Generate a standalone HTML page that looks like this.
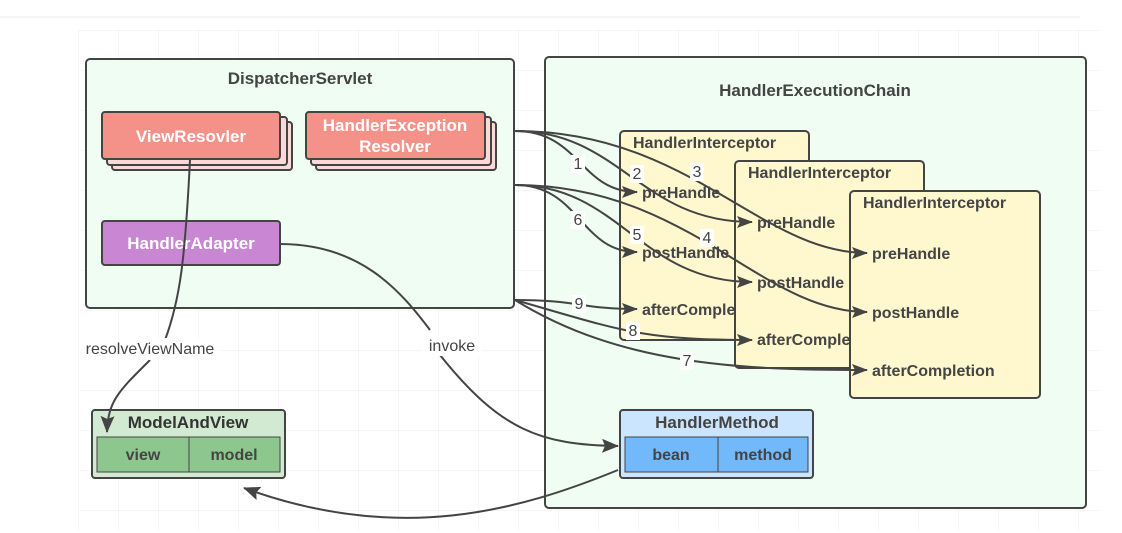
<!DOCTYPE html>
<html><head><meta charset="utf-8"><style>
html,body{margin:0;padding:0;background:#fff;}
svg{display:block;font-family:"Liberation Sans",sans-serif;}
</style></head><body>
<svg width="1122" height="533" viewBox="0 0 1122 533">
<defs>
<pattern id="g" width="40" height="40" patternUnits="userSpaceOnUse" x="78" y="30">
<path d="M40 0H0V40" fill="none" stroke="#ececec" stroke-width="1"/>
</pattern>
<marker id="a" markerWidth="16" markerHeight="12" refX="15" refY="6" orient="auto" markerUnits="userSpaceOnUse">
<path d="M0,0 L16,6 L0,12 L3,6 z" fill="#444"/>
</marker>
<marker id="b" markerWidth="18" markerHeight="14" refX="16" refY="7" orient="auto" markerUnits="userSpaceOnUse">
<path d="M0,0 L17,7 L0,14 L3,7 z" fill="#444"/>
</marker>
</defs>
<line x1="0" y1="17" x2="1080" y2="17" stroke="#eee"/>
<rect x="78" y="30" width="1022" height="500" fill="url(#g)"/>

<rect x="86" y="59" width="428" height="249" rx="4" fill="#effdf2" stroke="#444" stroke-width="2"/>
<text x="300" y="84" text-anchor="middle" font-size="17" font-weight="bold" fill="#444">DispatcherServlet</text>

<rect x="545" y="57" width="541" height="451" rx="4" fill="#effdf2" stroke="#444" stroke-width="2"/>
<text x="815" y="96" text-anchor="middle" font-size="17" font-weight="bold" fill="#444">HandlerExecutionChain</text>

<rect x="112" y="122" width="180" height="48" rx="3" fill="#fdd8d8" stroke="#444" stroke-width="2"/>
<rect x="107" y="117" width="180" height="48" rx="3" fill="#fdd8d8" stroke="#444" stroke-width="2"/>
<rect x="102" y="112" width="178" height="47" rx="3" fill="#f4928a" stroke="#444" stroke-width="2"/>
<text x="191" y="142" text-anchor="middle" font-size="17" font-weight="bold" fill="#fff">ViewResovler</text>

<rect x="316" y="122" width="180" height="48" rx="3" fill="#fdd8d8" stroke="#444" stroke-width="2"/>
<rect x="311" y="117" width="180" height="48" rx="3" fill="#fdd8d8" stroke="#444" stroke-width="2"/>
<rect x="306" y="112" width="179" height="47" rx="3" fill="#f4928a" stroke="#444" stroke-width="2"/>
<text x="395" y="131" text-anchor="middle" font-size="17" font-weight="bold" fill="#fff">HandlerException</text>
<text x="395" y="152" text-anchor="middle" font-size="17" font-weight="bold" fill="#fff">Resolver</text>

<rect x="102" y="221" width="178" height="44" rx="3" fill="#c986d2" stroke="#444" stroke-width="2"/>
<text x="191" y="249" text-anchor="middle" font-size="17" font-weight="bold" fill="#fff">HandlerAdapter</text>

<rect x="620" y="131" width="189" height="209" rx="4" fill="#fff8cf" stroke="#444" stroke-width="2"/>
<text x="633" y="148" font-size="16" font-weight="bold" fill="#444">HandlerInterceptor</text>
<text x="642" y="198" font-size="16" font-weight="bold" fill="#444">preHandle</text>
<text x="642" y="258" font-size="16" font-weight="bold" fill="#444">postHandle</text>
<text x="642" y="315" font-size="16" font-weight="bold" fill="#444">afterComple</text>

<rect x="735" y="161" width="189" height="207" rx="4" fill="#fff8cf" stroke="#444" stroke-width="2"/>
<text x="748" y="178" font-size="16" font-weight="bold" fill="#444">HandlerInterceptor</text>
<text x="757" y="228" font-size="16" font-weight="bold" fill="#444">preHandle</text>
<text x="757" y="288" font-size="16" font-weight="bold" fill="#444">postHandle</text>
<text x="757" y="345" font-size="16" font-weight="bold" fill="#444">afterComple</text>

<rect x="850" y="191" width="190" height="207" rx="4" fill="#fff8cf" stroke="#444" stroke-width="2"/>
<text x="863" y="208" font-size="16" font-weight="bold" fill="#444">HandlerInterceptor</text>
<text x="872" y="259" font-size="16" font-weight="bold" fill="#444">preHandle</text>
<text x="872" y="318" font-size="16" font-weight="bold" fill="#444">postHandle</text>
<text x="872" y="376" font-size="16" font-weight="bold" fill="#444">afterCompletion</text>

<rect x="92" y="410" width="193" height="68" rx="3" fill="#d2ead2" stroke="#444" stroke-width="2"/>
<text x="188" y="428" text-anchor="middle" font-size="17" font-weight="bold" fill="#333">ModelAndView</text>
<rect x="97" y="437" width="183" height="35" fill="#8ec78e" stroke="#444" stroke-width="1"/>
<line x1="189" y1="437" x2="189" y2="472" stroke="#444"/>
<text x="143" y="460" text-anchor="middle" font-size="16" font-weight="bold" fill="#444">view</text>
<text x="234" y="460" text-anchor="middle" font-size="16" font-weight="bold" fill="#444">model</text>

<rect x="620" y="410" width="193" height="68" rx="3" fill="#cce5ff" stroke="#444" stroke-width="2"/>
<text x="717" y="428" text-anchor="middle" font-size="17" font-weight="bold" fill="#444">HandlerMethod</text>
<rect x="625" y="437" width="183" height="35" fill="#72b9fb" stroke="#444" stroke-width="1"/>
<line x1="718" y1="437" x2="718" y2="472" stroke="#444"/>
<text x="671" y="460" text-anchor="middle" font-size="16" font-weight="bold" fill="#444">bean</text>
<text x="763" y="460" text-anchor="middle" font-size="16" font-weight="bold" fill="#444">method</text>

<g fill="none" stroke="#444" stroke-width="2">
<path d="M515 131 C580 131,580 192,637 192" marker-end="url(#a)"/>
<path d="M515 131 C620 131,640 222,752 222" marker-end="url(#a)"/>
<path d="M515 131 C690 131,760 253,867 253" marker-end="url(#a)"/>
<path d="M515 185 C580 185,580 252,637 252" marker-end="url(#a)"/>
<path d="M515 185 C620 185,640 282,752 282" marker-end="url(#a)"/>
<path d="M515 185 C690 185,760 312,867 312" marker-end="url(#a)"/>
<path d="M515 300 C580 300,580 309,637 309" marker-end="url(#a)"/>
<path d="M515 300 C620 330,640 340,752 340" marker-end="url(#a)"/>
<path d="M515 300 C620 365,740 370,867 370" marker-end="url(#a)"/>
<path d="M190 160 C185 260,180 300,165 340" />
<path d="M150 360 C120 390,108 400,107 432" marker-end="url(#b)"/>
<path d="M280 244 C360 244,400 290,430 330"/>
<path d="M440 355 C500 430,540 445,618 446" marker-end="url(#b)"/>
<path d="M618 470 C520 510,400 545,244 488" marker-end="url(#b)"/>
</g>
<g font-size="16" fill="#444" text-anchor="middle">
<rect x="571" y="155" width="14" height="18" fill="#fff"/><text x="578" y="169">1</text>
<rect x="630" y="165" width="14" height="18" fill="#fff"/><text x="637" y="179">2</text>
<rect x="690" y="163" width="14" height="18" fill="#fff"/><text x="697" y="177">3</text>
<rect x="571" y="211" width="14" height="18" fill="#fff"/><text x="578" y="225">6</text>
<rect x="630" y="226" width="14" height="18" fill="#fff"/><text x="637" y="240">5</text>
<rect x="700" y="229" width="14" height="18" fill="#fff"/><text x="707" y="243">4</text>
<rect x="572" y="295" width="14" height="18" fill="#fff"/><text x="579" y="309">9</text>
<rect x="626" y="322" width="14" height="18" fill="#fff"/><text x="633" y="336">8</text>
<rect x="680" y="352" width="14" height="18" fill="#fff"/><text x="687" y="366">7</text>
<rect x="80" y="338" width="140" height="22" fill="#fff"/><text x="150" y="354">resolveViewName</text>
<rect x="422" y="336" width="60" height="20" fill="#fff"/><text x="452" y="351">invoke</text>
</g>
</svg>
</body></html>
